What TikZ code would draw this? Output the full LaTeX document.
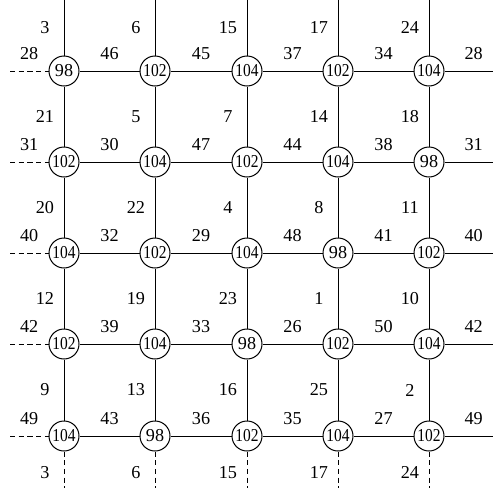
\documentclass[tikz,border=0pt]{standalone}
\usepackage{fontspec}
\setmainfont{Liberation Serif}
\usepackage{graphicx}

\newcommand{\nw}[1]{\scalebox{0.85}[1]{#1}}

\begin{document}
\begin{tikzpicture}[x=0.55pt,y=-0.55pt,line width=0.55pt,
    site/.style={draw,circle,fill=white,inner sep=0pt,minimum size=16.5pt},
    hlab/.style={yshift=9.4pt},
    vlab/.style={xshift=-10.5pt},
    wrap/.style={dash pattern=on 2.8pt off 2pt}]
  \useasboundingbox (0,0) rectangle (493,488);

  \def\xa{64} \def\xb{155} \def\xc{247} \def\xd{338} \def\xe{429}
  \def\ya{71} \def\yb{162} \def\yc{253} \def\yd{344} \def\ye{436}

  %------------------
  % 頂点
  %------------------
  \node[site] (v11) at (\xa,\ya) {98};
  \node[site] (v12) at (\xb,\ya) {\nw{102}};
  \node[site] (v13) at (\xc,\ya) {\nw{104}};
  \node[site] (v14) at (\xd,\ya) {\nw{102}};
  \node[site] (v15) at (\xe,\ya) {\nw{104}};

  \node[site] (v21) at (\xa,\yb) {\nw{102}};
  \node[site] (v22) at (\xb,\yb) {\nw{104}};
  \node[site] (v23) at (\xc,\yb) {\nw{102}};
  \node[site] (v24) at (\xd,\yb) {\nw{104}};
  \node[site] (v25) at (\xe,\yb) {98};

  \node[site] (v31) at (\xa,\yc) {\nw{104}};
  \node[site] (v32) at (\xb,\yc) {\nw{102}};
  \node[site] (v33) at (\xc,\yc) {\nw{104}};
  \node[site] (v34) at (\xd,\yc) {98};
  \node[site] (v35) at (\xe,\yc) {\nw{102}};

  \node[site] (v41) at (\xa,\yd) {\nw{102}};
  \node[site] (v42) at (\xb,\yd) {\nw{104}};
  \node[site] (v43) at (\xc,\yd) {98};
  \node[site] (v44) at (\xd,\yd) {\nw{102}};
  \node[site] (v45) at (\xe,\yd) {\nw{104}};

  \node[site] (v51) at (\xa,\ye) {\nw{104}};
  \node[site] (v52) at (\xb,\ye) {98};
  \node[site] (v53) at (\xc,\ye) {\nw{102}};
  \node[site] (v54) at (\xd,\ye) {\nw{104}};
  \node[site] (v55) at (\xe,\ye) {\nw{102}};

  %------------------
  % 端点
  %------------------
  \coordinate (t1) at (\xa,0);   \coordinate (b1) at (\xa,488);
  \coordinate (t2) at (\xb,0);   \coordinate (b2) at (\xb,488);
  \coordinate (t3) at (\xc,0);   \coordinate (b3) at (\xc,488);
  \coordinate (t4) at (\xd,0);   \coordinate (b4) at (\xd,488);
  \coordinate (t5) at (\xe,0);   \coordinate (b5) at (\xe,488);
  \coordinate (l1) at (10,\ya);  \coordinate (r1) at (493,\ya);
  \coordinate (l2) at (10,\yb);  \coordinate (r2) at (493,\yb);
  \coordinate (l3) at (10,\yc);  \coordinate (r3) at (493,\yc);
  \coordinate (l4) at (10,\yd);  \coordinate (r4) at (493,\yd);
  \coordinate (l5) at (10,\ye);  \coordinate (r5) at (493,\ye);

  %------------------
  % 縦の辺
  %------------------
  \draw (t1) -- node[vlab]{3} (v11);
  \draw (t2) -- node[vlab]{6} (v12);
  \draw (t3) -- node[vlab]{15} (v13);
  \draw (t4) -- node[vlab]{17} (v14);
  \draw (t5) -- node[vlab]{24} (v15);

  \draw (v11) -- node[vlab]{21} (v21);
  \draw (v12) -- node[vlab]{5} (v22);
  \draw (v13) -- node[vlab]{7} (v23);
  \draw (v14) -- node[vlab]{14} (v24);
  \draw (v15) -- node[vlab]{18} (v25);

  \draw (v21) -- node[vlab]{20} (v31);
  \draw (v22) -- node[vlab]{22} (v32);
  \draw (v23) -- node[vlab]{4} (v33);
  \draw (v24) -- node[vlab]{8} (v34);
  \draw (v25) -- node[vlab]{11} (v35);

  \draw (v31) -- node[vlab]{12} (v41);
  \draw (v32) -- node[vlab]{19} (v42);
  \draw (v33) -- node[vlab]{23} (v43);
  \draw (v34) -- node[vlab]{1} (v44);
  \draw (v35) -- node[vlab]{10} (v45);

  \draw (v41) -- node[vlab]{9} (v51);
  \draw (v42) -- node[vlab]{13} (v52);
  \draw (v43) -- node[vlab]{16} (v53);
  \draw (v44) -- node[vlab]{25} (v54);
  \draw (v45) -- node[vlab]{2} (v55);

  % 下端（点線）
  \draw[wrap] (v51) -- node[vlab,pos=0.57]{3} (b1);
  \draw[wrap] (v52) -- node[vlab,pos=0.57]{6} (b2);
  \draw[wrap] (v53) -- node[vlab,pos=0.57]{15} (b3);
  \draw[wrap] (v54) -- node[vlab,pos=0.57]{17} (b4);
  \draw[wrap] (v55) -- node[vlab,pos=0.57]{24} (b5);

  %------------------
  % 横の辺
  %------------------
  \draw[wrap] (l1) -- node[hlab]{28} (v11);
  \draw (v11) -- node[hlab]{46} (v12) -- node[hlab]{45} (v13)
    -- node[hlab]{37} (v14) -- node[hlab]{34} (v15);
  \draw (v15) -- node[hlab,pos=0.6]{28} (r1);

  \draw[wrap] (l2) -- node[hlab]{31} (v21);
  \draw (v21) -- node[hlab]{30} (v22) -- node[hlab]{47} (v23)
    -- node[hlab]{44} (v24) -- node[hlab]{38} (v25);
  \draw (v25) -- node[hlab,pos=0.6]{31} (r2);

  \draw[wrap] (l3) -- node[hlab]{40} (v31);
  \draw (v31) -- node[hlab]{32} (v32) -- node[hlab]{29} (v33)
    -- node[hlab]{48} (v34) -- node[hlab]{41} (v35);
  \draw (v35) -- node[hlab,pos=0.6]{40} (r3);

  \draw[wrap] (l4) -- node[hlab]{42} (v41);
  \draw (v41) -- node[hlab]{39} (v42) -- node[hlab]{33} (v43)
    -- node[hlab]{26} (v44) -- node[hlab]{50} (v45);
  \draw (v45) -- node[hlab,pos=0.6]{42} (r4);

  \draw[wrap] (l5) -- node[hlab]{49} (v51);
  \draw (v51) -- node[hlab]{43} (v52) -- node[hlab]{36} (v53)
    -- node[hlab]{35} (v54) -- node[hlab]{27} (v55);
  \draw (v55) -- node[hlab,pos=0.6]{49} (r5);
\end{tikzpicture}
\end{document}
